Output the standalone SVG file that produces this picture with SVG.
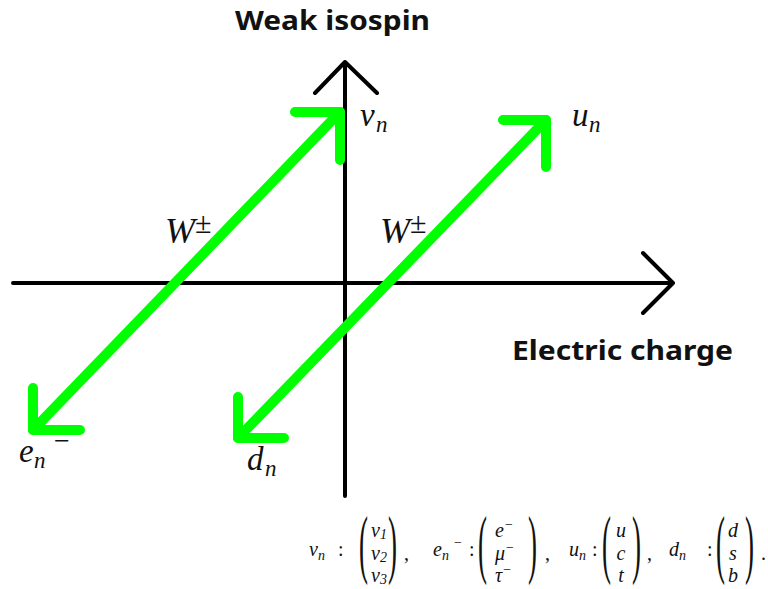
<svg xmlns="http://www.w3.org/2000/svg" width="768" height="589" viewBox="0 0 768 589">
<style>
.ax{stroke:#000;stroke-width:4;fill:none;stroke-linecap:round;stroke-linejoin:round}
.gr{stroke:#00ff00;stroke-width:10;fill:none;stroke-linecap:round;stroke-linejoin:round}
.ttl{font-family:"Noto Sans","Liberation Sans",sans-serif;font-weight:700;font-size:26px;fill:#111}
.m{font-family:"Liberation Serif","DejaVu Serif",serif;font-style:italic;fill:#111}
.r{font-family:"Liberation Serif","DejaVu Serif",serif;fill:#111}
.big{font-size:33px}
.sub{font-size:23px}
.f{font-size:20px}
.fs{font-size:14px}
.par{font-family:"Liberation Serif",serif;font-size:77px;fill:#111}
</style>
<rect width="768" height="589" fill="#fff"/>
<g id="connectors">
<g id="axes">
<path class="ax" d="M13 283 H673 M643 253 L673 283 L643 313"/>
<path class="ax" d="M345 496 V62 M315 93 L345 62 L377 93"/>
</g>
<g id="arrow-lepton">
<path class="gr" d="M33 430 L340 112"/>
<path class="gr" d="M295 112 H340 V160"/>
<path class="gr" d="M33 388 V430 H80"/>
</g>
<g id="arrow-quark">
<path class="gr" d="M238 438 L546 120"/>
<path class="gr" d="M503 120 H546 V167"/>
<path class="gr" d="M238 397 V438 H284"/>
</g>
</g>
<g id="title-y"><text class="ttl" x="235" y="30" textLength="195" lengthAdjust="spacingAndGlyphs">Weak isospin</text></g>
<g id="title-x"><text class="ttl" x="512" y="360" textLength="221" lengthAdjust="spacingAndGlyphs">Electric charge</text></g>
<g id="node-nu"><text class="m big" x="360" y="126">ν</text><text class="m sub" x="376" y="132">n</text></g>
<g id="node-u"><text class="m big" x="572" y="126">u</text><text class="m sub" x="589" y="132">n</text></g>
<g id="node-e"><text class="m big" x="19" y="462">e</text><text class="m sub" x="34" y="468">n</text><text class="r" font-size="28" x="54" y="450">−</text></g>
<g id="node-d"><text class="m big" x="247" y="470">d</text><text class="m sub" x="265" y="476">n</text></g>
<g id="label-w1"><text class="m" font-size="36" x="165" y="243">W</text><text class="r" font-size="30" x="195" y="233">±</text></g>
<g id="label-w2"><text class="m" font-size="36" x="380" y="243">W</text><text class="r" font-size="30" x="410" y="233">±</text></g>
<g id="formula">
<text class="m f" x="309" y="556">ν</text><text class="m fs" x="318" y="560">n</text><text class="r f" x="338" y="556">:</text>
<text class="par" transform="translate(359,569) scale(0.35,1)">(</text>
<text class="m f" x="371" y="537">ν<tspan class="r fs" dy="2">1</tspan></text>
<text class="m f" x="371" y="560">ν<tspan class="r fs" dy="2">2</tspan></text>
<text class="m f" x="371" y="582">ν<tspan class="r fs" dy="2">3</tspan></text>
<text class="par" transform="translate(388,569) scale(0.35,1)">)</text>
<text class="r f" x="404" y="560">,</text>
<text class="m f" x="433" y="556">e</text><text class="m fs" x="442" y="560">n</text><text class="r fs" x="454" y="547">−</text><text class="r f" x="469" y="556">:</text>
<text class="par" transform="translate(478,569) scale(0.35,1)">(</text>
<text class="m f" x="495" y="537">e<tspan class="r fs" dy="-8">−</tspan></text>
<text class="m f" x="495" y="560">μ<tspan class="r fs" dy="-8">−</tspan></text>
<text class="m f" x="495" y="582">τ<tspan class="r fs" dy="-8">−</tspan></text>
<text class="par" transform="translate(528,569) scale(0.35,1)">)</text>
<text class="r f" x="545" y="560">,</text>
<text class="m f" x="569" y="556">u</text><text class="m fs" x="579" y="560">n</text><text class="r f" x="592" y="556">:</text>
<text class="par" transform="translate(602,569) scale(0.35,1)">(</text>
<text class="m f" x="621" y="537" text-anchor="middle">u</text>
<text class="m f" x="621" y="560" text-anchor="middle">c</text>
<text class="m f" x="621" y="582" text-anchor="middle">t</text>
<text class="par" transform="translate(632,569) scale(0.35,1)">)</text>
<text class="r f" x="647" y="560">,</text>
<text class="m f" x="669" y="556">d</text><text class="m fs" x="679" y="560">n</text><text class="r f" x="707" y="556">:</text>
<text class="par" transform="translate(716,569) scale(0.35,1)">(</text>
<text class="m f" x="733" y="537" text-anchor="middle">d</text>
<text class="m f" x="733" y="560" text-anchor="middle">s</text>
<text class="m f" x="733" y="582" text-anchor="middle">b</text>
<text class="par" transform="translate(745,569) scale(0.35,1)">)</text>
<text class="r f" x="761" y="560">.</text>
</g>
</svg>
